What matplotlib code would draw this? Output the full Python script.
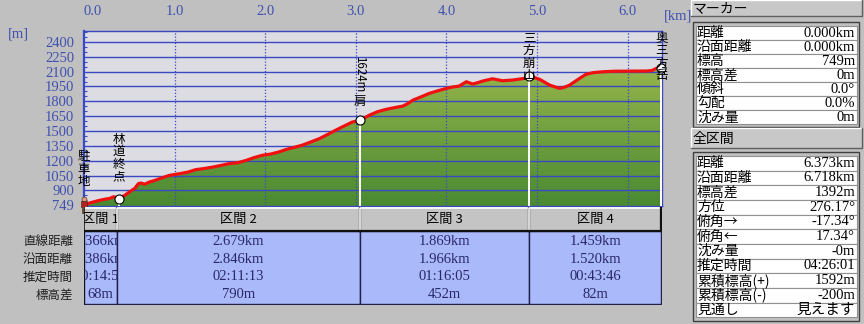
import matplotlib
matplotlib.use("Agg")
import numpy as np
import matplotlib.pyplot as plt
from matplotlib.patches import Rectangle
from matplotlib.colors import LinearSegmentedColormap
from matplotlib.ticker import MultipleLocator
from matplotlib.transforms import blended_transform_factory, Bbox, TransformedBbox, offset_copy

plt.rcParams['font.family'] = ['Liberation Serif', 'Noto Sans CJK JP', 'DejaVu Sans']
JP = ['Noto Sans CJK JP', 'DejaVu Sans']

# profile (km, m)
dist = [0.00, 0.06, 0.17, 0.24, 0.28, 0.33, 0.386, 0.45, 0.50, 0.56, 0.60, 0.63, 0.67,
        0.72, 0.78, 0.83, 0.94, 1.05, 1.15, 1.23, 1.32, 1.42, 1.50, 1.60, 1.70, 1.79,
        1.88, 1.97, 2.06, 2.15, 2.23, 2.32, 2.41, 2.50, 2.60, 2.70, 2.78, 2.87, 2.96,
        3.045, 3.15, 3.24, 3.33, 3.42, 3.52, 3.58, 3.63, 3.72, 3.81, 3.90, 4.00, 4.07,
        4.14, 4.22, 4.29, 4.35, 4.40, 4.51, 4.62, 4.73, 4.86, 4.914, 5.03, 5.14, 5.25,
        5.31, 5.36, 5.47, 5.54, 5.62, 5.73, 5.85, 5.99, 6.10, 6.21, 6.27, 6.32, 6.373]
elev = [749, 772, 799, 812, 818, 836, 817, 850, 883, 920, 968, 974, 962,
        984, 1000, 1017, 1051, 1068, 1085, 1109, 1120, 1135, 1150, 1170, 1180, 1203,
        1232, 1255, 1267, 1288, 1313, 1335, 1357, 1388, 1424, 1470, 1509, 1550, 1590,
        1607, 1660, 1695, 1718, 1735, 1752, 1780, 1812, 1845, 1880, 1905, 1931, 1945,
        1954, 1998, 1975, 1990, 2005, 2028, 2008, 2015, 2032, 2059, 2022, 1964, 1931,
        1945, 1964, 2032, 2073, 2090, 2099, 2104, 2105, 2106, 2106, 2112, 2134, 2141]

points = ["駐車地", "林道終点", "1624m肩", "三方崩山", "奥三方岳"]
point_km = [0.0, 0.386, 3.045, 4.914, 6.373]
point_m = [749, 817, 1607, 2059, 2141]

x_ticks = [0, 1, 2, 3, 4, 5, 6]
x_labels = ["0.0", "1.0", "2.0", "3.0", "4.0", "5.0", "6.0"]
y_ticks = [2400, 2250, 2100, 1950, 1800, 1650, 1500, 1350, 1200, 1050, 900, 749]

sections = ["区間 1", "区間 2", "区間 3", "区間 4"]
sec_straight = [0.366, 2.679, 1.869, 1.459]
row_names = ["直線距離", "沿面距離", "推定時間", "標高差"]
sec_straight_txt = ["0.366km", "2.679km", "1.869km", "1.459km"]
sec_surface = ["0.386km", "2.846km", "1.966km", "1.520km"]
sec_time = ["00:14:57", "02:11:13", "01:16:05", "00:43:46"]
sec_diff = ["68m", "790m", "452m", "82m"]

marker_labels = ["距離", "沿面距離", "標高", "標高差", "傾斜", "勾配", "沈み量"]
marker_values = ["0.000km", "0.000km", "749m", "0m", "0.0°", "0.0%", "0m"]
total_labels = ["距離", "沿面距離", "標高差", "方位", "俯角→", "俯角←", "沈み量",
                "推定時間", "累積標高(+)", "累積標高(-)", "見通し"]
total_values = ["6.373km", "6.718km", "1392m", "276.17°", "-17.34°", "17.34°", "-0m",
                "04:26:01", "1592m", "-200m", "見えます"]

W, H = 864, 324
BLUE = '#3a48c4'
TXTBLUE = '#4050b0'

fig = plt.figure(figsize=(8.64, 3.24), dpi=100, facecolor='#c0c0c0')
bg = fig.add_axes([0, 0, 1, 1], zorder=0)
bg.set_xlim(0, W)
bg.set_ylim(H, 0)
bg.axis('off')

ax = fig.add_axes([84 / W, 1 - 206 / H, (662 - 84) / W, (206 - 31) / H], zorder=2)
tab = fig.add_axes([84 / W, 1 - 305 / H, (662 - 84) / W, (305 - 207) / H], zorder=2)

# ---- profile
ax.set_facecolor('#dcdce2')
poly = ax.fill_between(dist, elev, 742, color='none', lw=0)
cmap = LinearSegmentedColormap.from_list('g', ['#4a8a32', '#96b54c'])
grad = np.linspace(0, 1, 256).reshape(-1, 1)
im = ax.imshow(grad, extent=[0, 6.38, 742, 2150], origin='lower', aspect='auto',
               cmap=cmap, zorder=1)
im.set_clip_path(poly.get_paths()[0], transform=ax.transData)

for v in y_ticks[:-1]:
    ax.axhline(v, color=BLUE, lw=1, zorder=3)
for k in x_ticks[1:]:
    ax.axvline(k, color=BLUE, lw=0.9, ls=(0, (1, 1.5)), zorder=3)

ax.vlines(point_km[1:], 742, point_m[1:], color='white', lw=1.4, zorder=4)
ax.plot(dist, elev, color='#f01010', lw=2.3, zorder=5, solid_capstyle='butt')
ax.plot(point_km[1:], point_m[1:], 'o', ms=6.5, mfc='white', mec='black', mew=0.8,
        zorder=6, clip_on=False)

# hiker icon at the marker position
for dy, mk, ms, c in [(6, 'o', 3.6, '#e0a080'), (1, 's', 4.2, '#b02424'), (-5, 's', 3.6, '#6a4a22')]:
    ax.plot(point_km[0], point_m[0], mk, ms=ms, color=c, mec='#402010', mew=0.4, zorder=7,
            clip_on=False, transform=offset_copy(ax.transData, fig=fig, x=0, y=dy, units='dots'))

ax.set_xlim(0, 6.38)
ax.set_ylim(742, 2511)
ax.xaxis.tick_top()
ax.set_xticks(x_ticks)
ax.set_xticklabels(x_labels)
ax.get_xticklabels()[0].set_ha('left')
ax.tick_params(axis='x', length=0, pad=9.5, labelsize=10.5, labelcolor=TXTBLUE)
ax.set_yticks(y_ticks)
ax.tick_params(axis='y', length=0, pad=7, labelsize=10.5, labelcolor=TXTBLUE)
ax.yaxis.set_minor_locator(MultipleLocator(50))
ax.tick_params(axis='y', which='minor', direction='in', length=2.5, color=BLUE, width=0.8)
for s in ax.spines.values():
    s.set_color(BLUE)
    s.set_linewidth(1)
ax.spines['left'].set_linewidth(1.6)

# point names (vertical)
lbl_tr = blended_transform_factory(ax.transData, ax.transAxes)
label_top = [0.32, 0.42, 0.86, 0.995, 0.995]
for name, km, top in zip(points, point_km, label_top):
    if name.endswith("肩"):
        ax.text(km, top, name[:-1], rotation=270, ha='center', va='top', family=JP,
                fontsize=8.3, transform=lbl_tr, zorder=8)
        ax.text(km, top - 0.225, name[-1], ha='center', va='top', family=JP,
                fontsize=9, transform=lbl_tr, zorder=8)
    else:
        ax.text(km, top, "\n".join(name), ha='center', va='top', family=JP, fontsize=9,
                linespacing=0.95, transform=lbl_tr, zorder=8, clip_on=False)

bg.text(8, 34, "[m]", fontsize=10.5, color=TXTBLUE, va='center')
bg.text(664, 16, "[km]", fontsize=10.5, color=TXTBLUE, va='center')

# ---- section table
bounds = np.concatenate([[0], np.cumsum(sec_straight)])
tab.set_xlim(0, 6.38)
tab.set_ylim(98, 0)
tab.axis('off')
HDR = 23.5
rows = [sec_straight_txt, sec_surface, sec_time, sec_diff]
for i in range(len(sections)):
    x0, x1 = bounds[i], bounds[i + 1]
    tab.add_patch(Rectangle((x0, 0), x1 - x0, HDR, fc='#c4c4c4', ec='none'))
    tab.add_patch(Rectangle((x0, HDR), x1 - x0, 97 - HDR, fc='#aab9fa', ec='#20204a', lw=1))
    tab.plot([x0, x0, x1], [HDR, 0.5, 0.5], color='white', lw=1.2)
    tab.plot([x0, x1, x1], [HDR, HDR, 0.5], color='#101010', lw=1.6)
    cell = TransformedBbox(Bbox([[x0, 0], [x1, 97]]), tab.transData)
    t = tab.text((x0 + x1) / 2, 12, sections[i], ha='center', va='center', family=JP,
                 fontsize=9.5, color='black')
    t.set_clip_box(cell)
    t.set_clip_on(True)
    for j, r in enumerate(rows):
        t = tab.text((x0 + x1) / 2, 25.5 + (j + 0.5) * 17.8, r[i], ha='center',
                     va='center', fontsize=10.5, color='#28286a')
        t.set_clip_box(cell)
        t.set_clip_on(True)
tab.plot([0, 0], [0, 97], color='#101010', lw=1.2)

row_tr = blended_transform_factory(bg.transData, tab.transData)
for j, name in enumerate(row_names):
    tab.text(73, 25.5 + (j + 0.5) * 17.8, name, ha='right', va='center', family=JP,
             fontsize=9, color='#202020', transform=row_tr)

# ---- right panel
def header(y0, y1, text):
    bg.add_patch(Rectangle((691, y0), 171, y1 - y0, fc='#c8c8c8', ec='none'))
    bg.plot([691, 691, 862], [y1, y0, y0], color='white', lw=1)
    bg.plot([691, 862, 862], [y1, y1, y0], color='#606060', lw=1)
    bg.text(693, (y0 + y1) / 2 + 0.5, text, family=JP, fontsize=10, va='center',
            color='black')


def block(top, bottom, rh, labels, values):
    bg.add_patch(Rectangle((693, top), 166, bottom - top, fc='#c0c0c0', ec='#404040', lw=1))
    y = top + 4
    for lab, val in zip(labels, values):
        bg.add_patch(Rectangle((696, y), 161, rh, fc='white', ec='#909090', lw=0.8))
        bg.text(697, y + rh / 2, lab, family=JP, fontsize=10, va='center', color='black')
        bg.text(855, y + rh / 2, val, fontsize=10.5, va='center', ha='right', color='black')
        y += rh


header(0, 16, "マーカー")
block(22, 127, 14.05, marker_labels, marker_values)
header(128, 148, "全区間")
block(152, 321, 14.66, total_labels, total_values)

fig.savefig("out.png", dpi=100, facecolor=fig.get_facecolor())
